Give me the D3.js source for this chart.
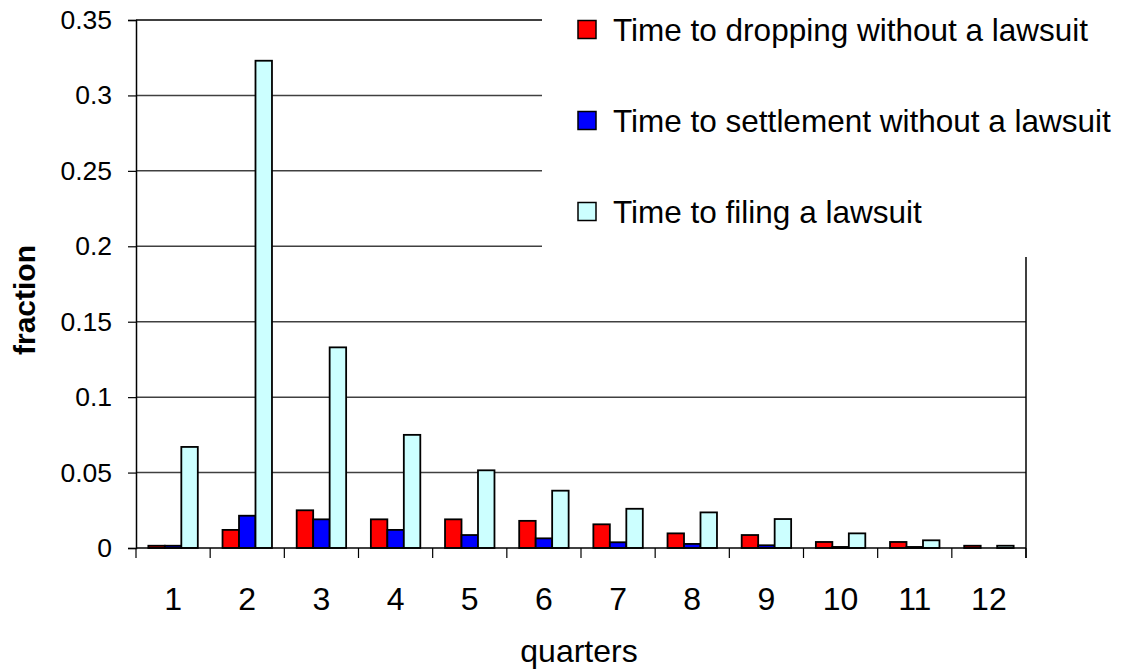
<!DOCTYPE html>
<html>
<head>
<meta charset="utf-8">
<script src="https://cdn.jsdelivr.net/npm/d3@7"></script>
<style>
  html, body { margin: 0; padding: 0; background: #fff; }
  svg { display: block; font-family: "Liberation Sans", Arial, sans-serif; }
</style>
</head>
<body>
<svg id="chart" width="1130" height="671"></svg>
<script>
const quarters = ["1","2","3","4","5","6","7","8","9","10","11","12"];
const seriesNames = ["Time to dropping without a lawsuit", "Time to settlement without a lawsuit", "Time to filing a lawsuit"];
const seriesColors = ["#FF0000", "#0000FF", "#CCFFFF"];
const dropping   = [0.0015, 0.012, 0.025, 0.019, 0.019, 0.018, 0.0157, 0.0097, 0.0086, 0.004, 0.004, 0.0015];
const settlement = [0.0015, 0.0214, 0.019, 0.012, 0.0086, 0.0064, 0.0038, 0.0027, 0.0018, 0.0007, 0.0007, 0];
const filing     = [0.067, 0.323, 0.133, 0.075, 0.0515, 0.038, 0.026, 0.0236, 0.0192, 0.0097, 0.0051, 0.0015];
const yTicks = [0, 0.05, 0.1, 0.15, 0.2, 0.25, 0.3, 0.35];

const seriesValues = [dropping, settlement, filing];
const svg = d3.select("#chart");
const pLeft = 136, pRight = 1026, pTop = 20, pBottom = 548;

const x0 = d3.scaleBand().domain(quarters).range([pLeft, pRight]).padding(0);
const bw = x0.bandwidth();
const x1 = d3.scaleBand().domain([0,1,2]).range([bw/6, bw*5/6]).padding(0);
const y = d3.scaleLinear().domain([0, 0.35]).range([pBottom, pTop]);

// gridlines
svg.append("g").selectAll("line").data(yTicks.filter(d => d > 0)).join("line")
  .attr("x1", pLeft).attr("x2", pRight)
  .attr("y1", d => y(d)).attr("y2", d => y(d))
  .attr("stroke", d => d === 0.35 ? "#000" : "#404040")
  .attr("stroke-width", 1.5);

// right border
svg.append("line").attr("x1", pRight).attr("x2", pRight).attr("y1", pTop).attr("y2", pBottom + 10)
  .attr("stroke", "#000").attr("stroke-width", 1.5);

// bars
const groups = svg.append("g").selectAll("g").data(quarters).join("g")
  .attr("transform", d => `translate(${x0(d)},0)`);
groups.selectAll("rect").data((q, i) => seriesValues.map((s, k) => ({k, v: s[i]})))
  .join("rect")
  .attr("x", d => x1(d.k))
  .attr("width", x1.bandwidth())
  .attr("y", d => y(d.v))
  .attr("height", d => Math.max(0, pBottom - y(d.v)))
  .attr("fill", d => seriesColors[d.k])
  .attr("stroke", "#000").attr("stroke-width", 1.8);

// y axis
const yAxis = d3.axisLeft(y).tickValues(yTicks).tickSize(8).tickPadding(16)
  .tickFormat(d => d === 0 ? "0" : String(+d.toFixed(2)));
const gy = svg.append("g").attr("transform", `translate(${pLeft},0)`).call(yAxis);
gy.select(".domain").attr("stroke", "#000").attr("stroke-width", 1.5);
gy.selectAll(".tick line").attr("stroke", "#000").attr("stroke-width", 1.2);
gy.selectAll("text").attr("font-size", 26.5).attr("fill", "#000")
  .attr("font-family", "Liberation Sans, Arial, sans-serif");

// x axis
const xAxis = d3.axisBottom(x0).tickSize(0).tickPadding(39);
const gx = svg.append("g").attr("transform", `translate(0,${pBottom})`).call(xAxis);
gx.select(".domain").remove();
gx.selectAll("text").attr("font-size", 32).attr("fill", "#000")
  .attr("font-family", "Liberation Sans, Arial, sans-serif");
svg.append("line").attr("x1", pLeft).attr("x2", pRight).attr("y1", pBottom).attr("y2", pBottom)
  .attr("stroke", "#000").attr("stroke-width", 1.5);
const boundaries = quarters.map(q => x0(q)).concat([pRight]);
svg.append("g").selectAll("line").data(boundaries).join("line")
  .attr("x1", d => d).attr("x2", d => d).attr("y1", pBottom).attr("y2", pBottom + 10)
  .attr("stroke", "#000").attr("stroke-width", 1.2);

// axis titles
svg.append("text").attr("x", (pLeft + pRight) / 2 - 2).attr("y", 662)
  .attr("text-anchor", "middle").attr("font-size", 32).text("quarters");
svg.append("text").attr("transform", "translate(35,300) rotate(-90)")
  .attr("text-anchor", "middle").attr("font-size", 30).attr("font-weight", "bold").text("fraction");

// legend (white box overlapping the plot top-right)
const lg = svg.append("g");
lg.append("rect").attr("x", 542).attr("y", 0).attr("width", 1130 - 542).attr("height", 257).attr("fill", "#fff");
const rowY = [30, 121, 212];
const items = lg.selectAll("g").data(seriesNames).join("g")
  .attr("transform", (d, i) => `translate(578,${rowY[i]})`);
items.append("rect").attr("x", 0).attr("y", -9.5).attr("width", 18).attr("height", 18)
  .attr("fill", (d, i) => seriesColors[i]).attr("stroke", "#000").attr("stroke-width", 1.5);
items.append("text").attr("x", 35).attr("y", 11).attr("font-size", 31.5).attr("fill", "#000").text(d => d);
</script>
</body>
</html>
